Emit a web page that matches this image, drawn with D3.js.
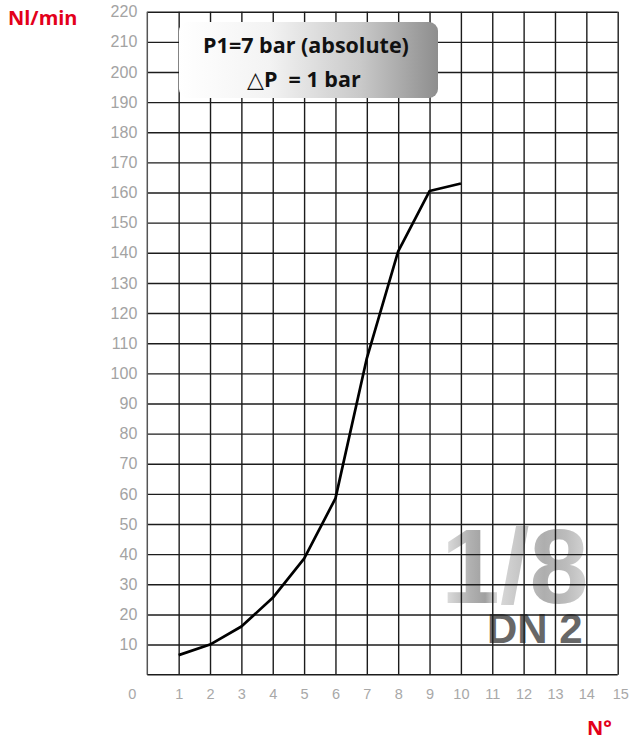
<!DOCTYPE html>
<html>
<head>
<meta charset="utf-8">
<script src="https://cdn.jsdelivr.net/npm/d3@7"></script>
<style>
  html, body { margin: 0; padding: 0; background: #fff; }
  svg { display: block; }
</style>
</head>
<body>
<div id="chart"></div>
<script>
// ---- data ----
const turns = [1, 2, 3, 4, 5, 6, 7, 8, 9, 10];
const flow = [6.5, 10, 16, 25.5, 38.5, 58.5, 105, 140.5, 160.5, 163];
const xTicks = [0, 1, 2, 3, 4, 5, 6, 7, 8, 9, 10, 11, 12, 13, 14, 15];
const yTicks = [10, 20, 30, 40, 50, 60, 70, 80, 90, 100, 110, 120, 130, 140, 150, 160, 170, 180, 190, 200, 210, 220];
const yUnit = "Nl/min";
const xUnit = "N°";
const boxLine1 = "P1=7 bar (absolute)";
const boxLine2 = "P  = 1 bar";
const deltaSym = "\u25B3";
const badgeBig = "1/8";
const badgeSmall = "DN 2";

// ---- layout ----
const W = 631, H = 742;
const L = 147.3, R = 617.7, T = 11.7, B = 674.7;

const svg = d3.select("#chart").append("svg")
  .attr("width", W).attr("height", H);

const x = d3.scaleLinear().domain([0, 15]).range([L, R]);
const y = d3.scaleLinear().domain([0, 220]).range([B, T]);

const defs = svg.append("defs");
const gBox = defs.append("linearGradient").attr("id", "boxGrad")
  .attr("x1", "0").attr("x2", "1").attr("y1", "0").attr("y2", "0");
gBox.append("stop").attr("offset", "0").attr("stop-color", "#ffffff");
gBox.append("stop").attr("offset", "0.35").attr("stop-color", "#f3f3f3");
gBox.append("stop").attr("offset", "0.7").attr("stop-color", "#c9c9c9");
gBox.append("stop").attr("offset", "1").attr("stop-color", "#8e8e8e");

const gBadge = defs.append("linearGradient").attr("id", "badgeGrad")
  .attr("x1", "0").attr("x2", "1").attr("y1", "0").attr("y2", "0");
[[0, "#e6e6e6"], [0.2, "#b0b0b0"], [0.3, "#a0a0a0"], [0.38, "#dadada"], [0.55, "#c4c4c4"], [0.7, "#aeaeae"], [0.85, "#bcbcbc"], [1, "#d6d6d6"]]
  .forEach(([o, c]) => gBadge.append("stop").attr("offset", o).attr("stop-color", c));

// ---- badge (under grid) ----
svg.append("text")
  .attr("x", 441).attr("y", 603)
  .attr("font-family", "'Liberation Sans', Arial, sans-serif")
  .attr("font-weight", "bold").attr("font-size", 106)
  .attr("fill", "url(#badgeGrad)")
  .text(badgeBig);
svg.append("text")
  .attr("x", 487).attr("y", 643)
  .attr("font-family", "'Liberation Sans', Arial, sans-serif")
  .attr("font-weight", "bold").attr("font-size", 42)
  .attr("fill", "#676767")
  .text(badgeSmall);

// ---- grid ----
const gridColor = "#1c1c1c";
const gx = svg.append("g").attr("transform", `translate(0,${B})`)
  .call(d3.axisBottom(x).tickValues(xTicks.slice(1)).tickSize(-(B - T)).tickFormat(""));
gx.select(".domain").remove();
gx.selectAll("line").attr("stroke", gridColor).attr("stroke-width", 1.4);

const gy = svg.append("g").attr("transform", `translate(${L},0)`)
  .call(d3.axisLeft(y).tickValues(yTicks).tickSize(-(R - L)).tickFormat(""));
gy.select(".domain").remove();
gy.selectAll("line").attr("stroke", gridColor).attr("stroke-width", 1.4);

// frame: left and bottom borders
svg.append("line").attr("x1", L).attr("x2", L).attr("y1", T).attr("y2", B)
  .attr("stroke", "#555").attr("stroke-width", 1.5);
svg.append("line").attr("x1", L).attr("x2", R).attr("y1", B).attr("y2", B)
  .attr("stroke", gridColor).attr("stroke-width", 1.5);

// ---- axis labels ----
const yl = svg.append("g").attr("transform", `translate(${L},0)`)
  .call(d3.axisLeft(y).tickValues(yTicks).tickSize(0).tickPadding(10));
yl.select(".domain").remove();
yl.selectAll("text")
  .attr("font-family", "'Liberation Sans', Arial, sans-serif")
  .attr("font-size", 16).attr("fill", "#a3a3a3");

const xl = svg.append("g").attr("transform", `translate(0,${B})`)
  .call(d3.axisBottom(x).tickValues(xTicks).tickSize(0).tickPadding(14));
xl.select(".domain").remove();
xl.selectAll("text")
  .attr("font-family", "'Liberation Sans', Arial, sans-serif")
  .attr("font-size", 14.5).attr("fill", "#a8a8a8")
  .attr("dx", d => d === 0 ? -15.5 : (d === 15 ? 2.5 : 0));

svg.append("text").attr("x", 8).attr("y", 25)
  .attr("font-family", "'Open Sans', sans-serif").attr("font-weight", "bold")
  .attr("font-size", 20).attr("fill", "#e3001b").text(yUnit);
svg.append("text").attr("x", 587).attr("y", 735)
  .attr("font-family", "'Open Sans', sans-serif").attr("font-weight", "bold")
  .attr("font-size", 20).attr("fill", "#e3001b").text(xUnit);

// ---- info box ----
svg.append("rect")
  .attr("x", 179).attr("y", 22).attr("width", 259).attr("height", 76)
  .attr("rx", 9).attr("ry", 9)
  .attr("fill", "url(#boxGrad)");
svg.append("text")
  .attr("x", 306).attr("y", 52.5)
  .attr("text-anchor", "middle")
  .attr("font-family", "'Open Sans', sans-serif").attr("font-weight", "bold")
  .attr("font-size", 21.5).attr("fill", "#111")
  .text(boxLine1);
const t2 = svg.append("text")
  .attr("x", 247).attr("y", 87)
  .attr("font-family", "'Open Sans', sans-serif").attr("font-weight", "bold")
  .attr("font-size", 21.5).attr("fill", "#111")
  .attr("xml:space", "preserve")
  .style("white-space", "pre");
t2.append("tspan").attr("font-family", "'DejaVu Sans', sans-serif")
  .attr("font-weight", "normal").attr("font-size", 22).text(deltaSym);
t2.append("tspan").text(boxLine2);

// ---- curve ----
const line = d3.line().x((d, i) => x(turns[i])).y(d => y(d));
svg.append("path").datum(flow)
  .attr("d", line)
  .attr("fill", "none").attr("stroke", "#000")
  .attr("stroke-width", 2.7).attr("stroke-linejoin", "round");
</script>
</body>
</html>
